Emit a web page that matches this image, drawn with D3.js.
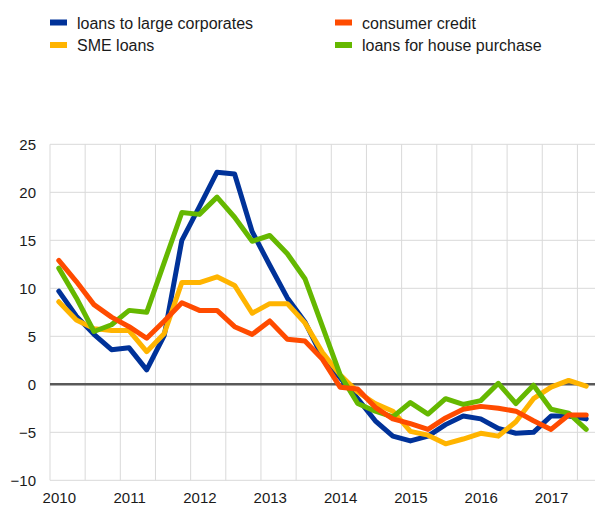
<!DOCTYPE html>
<html>
<head>
<meta charset="utf-8">
<script src="https://cdn.jsdelivr.net/npm/d3@7"></script>
<style>
  html, body { margin: 0; padding: 0; background: #fff; }
  svg { display: block; font-family: "Liberation Sans", Arial, sans-serif; }
</style>
</head>
<body>
<svg id="chart" width="595" height="506"></svg>
<script>
// ---- data ----
const years = ["2010","2011","2012","2013","2014","2015","2016","2017"];
const quarters = [];
years.forEach(yr => ["Q1","Q2","Q3","Q4"].forEach(q => quarters.push(yr + q)));
const periods = quarters.slice(0, 31); // 2010Q1 .. 2017Q3

const largeCorporates = [9.7, 7.1, 5.2, 3.6, 3.8, 1.5, 5.1, 15.0, 18.5, 22.1, 21.9, 15.9, 12.4, 9.0, 6.5, 2.8, 0.7, -1.5, -3.8, -5.4, -5.9, -5.4, -4.2, -3.3, -3.6, -4.6, -5.1, -5.0, -3.3, -3.3, -3.6];
const smeLoans = [8.6, 6.7, 5.8, 5.6, 5.6, 3.4, 5.3, 10.6, 10.6, 11.2, 10.3, 7.4, 8.4, 8.4, 6.4, 3.3, 1.0, -0.8, -2.0, -2.8, -4.9, -5.3, -6.2, -5.7, -5.1, -5.4, -3.9, -1.5, -0.3, 0.4, -0.2];
const consumerCredit = [12.9, 10.7, 8.3, 7.0, 6.0, 4.8, 6.6, 8.5, 7.7, 7.7, 6.0, 5.2, 6.6, 4.7, 4.5, 2.6, -0.3, -0.5, -2.4, -3.6, -4.1, -4.7, -3.5, -2.6, -2.3, -2.5, -2.8, -3.8, -4.7, -3.2, -3.2];
const housePurchase = [12.1, 9.0, 5.5, 6.2, 7.7, 7.5, 12.7, 17.9, 17.7, 19.5, 17.4, 14.9, 15.5, 13.6, 11.0, 6.0, 1.0, -2.0, -2.8, -3.4, -1.9, -3.1, -1.5, -2.1, -1.7, 0.1, -2.0, -0.1, -2.6, -3.0, -4.7];

const yTicks = [-10, -5, 0, 5, 10, 15, 20, 25];

const seriesNames = ["loans to large corporates", "consumer credit", "SME loans", "loans for house purchase"];
const seriesColors = ["#003299", "#ff4b00", "#ffb400", "#65b800"];
const seriesValues = [largeCorporates, consumerCredit, smeLoans, housePurchase];
const drawOrder = [0, 2, 3, 1];

// ---- layout ----
const svg = d3.select("#chart");
const pLeft = 50, pRight = 595, pTop = 144.3, pBottom = 480.3;

const x = d3.scalePoint().domain(periods).range([pLeft, pRight]).padding(0.5);
const step = x.step();
const y = d3.scaleLinear().domain([-10, 25]).range([pBottom, pTop]);

// horizontal gridlines
svg.append("g").selectAll("line").data(yTicks).join("line")
  .attr("x1", pLeft).attr("x2", pRight)
  .attr("y1", d => y(d)).attr("y2", d => y(d))
  .attr("stroke", "#d9d9d9").attr("stroke-width", 1);

// vertical gridlines every half year
const vgrid = d3.range(0, 16).map(k => pLeft + k * 2 * step);
svg.append("g").selectAll("line").data(vgrid).join("line")
  .attr("x1", d => d).attr("x2", d => d)
  .attr("y1", pTop).attr("y2", pBottom)
  .attr("stroke", "#d9d9d9").attr("stroke-width", 1);

// zero line
svg.append("line")
  .attr("x1", pLeft).attr("x2", pRight)
  .attr("y1", y(0)).attr("y2", y(0))
  .attr("stroke", "#595959").attr("stroke-width", 2.5);

// y axis labels
const yAxis = d3.axisLeft(y).tickValues(yTicks).tickSize(0).tickPadding(0).tickFormat(d3.format("d"));
const gy = svg.append("g").attr("transform", `translate(${pLeft - 14},0)`).call(yAxis);
gy.select(".domain").remove();
gy.selectAll("text").attr("font-size", 15).attr("fill", "#1a1a1a")
  .attr("font-family", "Liberation Sans, Arial, sans-serif");

// x axis labels
const xAxis = d3.axisBottom(x).tickValues(years.map(yr => yr + "Q1")).tickSize(0).tickPadding(0)
  .tickFormat(d => d.slice(0, 4));
const gx = svg.append("g").attr("transform", `translate(0,${pBottom + 12})`).call(xAxis);
gx.select(".domain").remove();
gx.selectAll("text").attr("font-size", 15).attr("fill", "#1a1a1a")
  .attr("font-family", "Liberation Sans, Arial, sans-serif");

// lines
const line = d3.line().x((d, i) => x(periods[i])).y(d => y(d)).curve(d3.curveLinear);
drawOrder.forEach(si => {
  svg.append("path")
    .datum(seriesValues[si])
    .attr("d", line)
    .attr("fill", "none")
    .attr("stroke", seriesColors[si])
    .attr("stroke-width", 5)
    .attr("stroke-linejoin", "round")
    .attr("stroke-linecap", "round");
});

// legend
const legendPos = [[50, 22.5], [335, 22.5], [50, 45], [335, 45]];
const lg = svg.append("g");
seriesNames.forEach((name, i) => {
  const [lx, ly] = legendPos[i];
  lg.append("rect").attr("x", lx).attr("y", ly - 3).attr("width", 17).attr("height", 6)
    .attr("fill", seriesColors[i]);
  lg.append("text").attr("x", lx + 27).attr("y", ly + 6)
    .attr("font-size", 16).attr("fill", "#1a1a1a").text(name);
});
</script>
</body>
</html>
